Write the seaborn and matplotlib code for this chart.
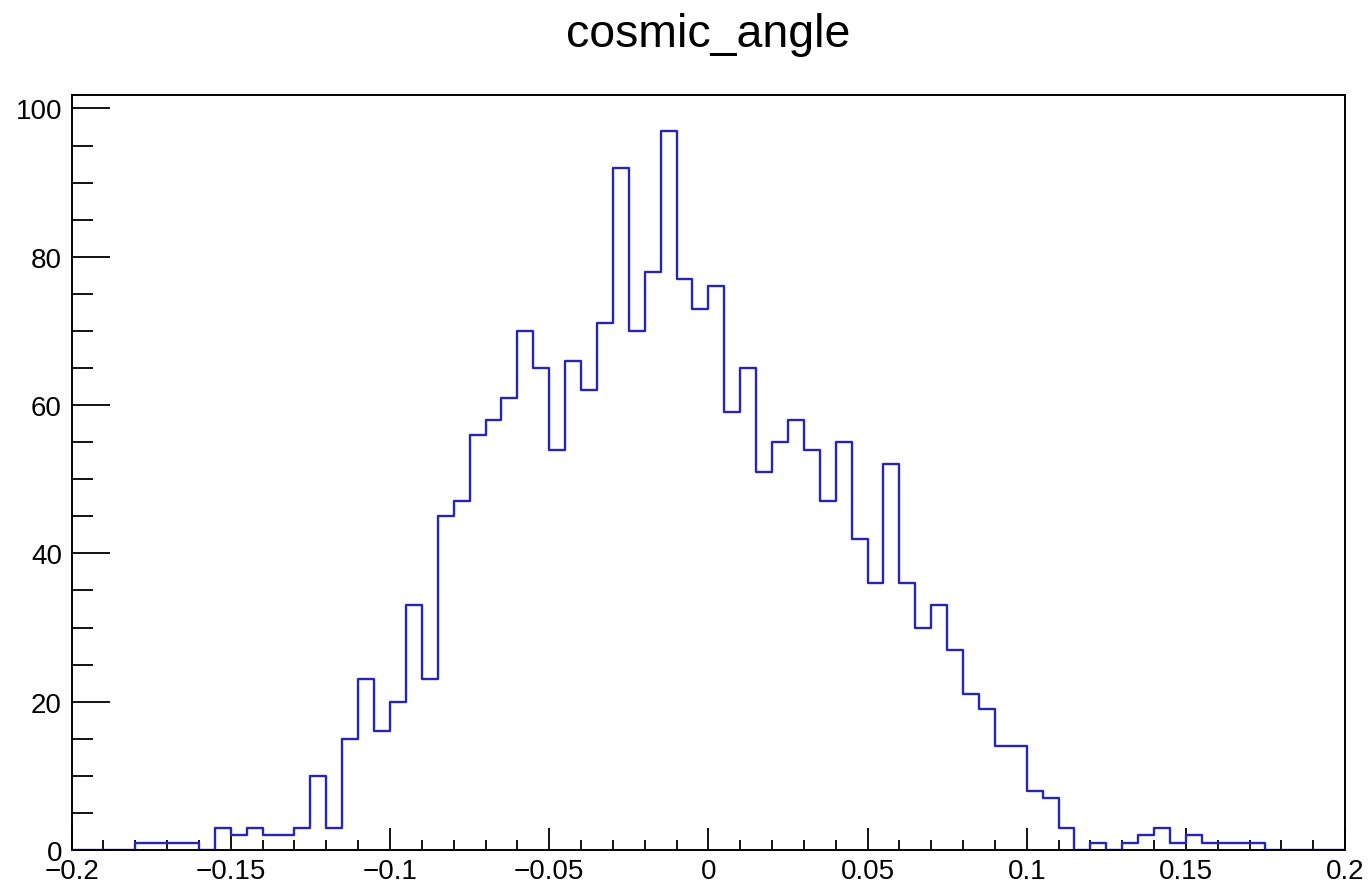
import numpy as np
import pandas as pd
import matplotlib
matplotlib.use("Agg")
import matplotlib.pyplot as plt
from matplotlib.ticker import MultipleLocator, FuncFormatter
import seaborn as sns

# Histogram data (counts per 0.005 bin, from -0.2 to 0.2)
bin_edges = np.round(np.arange(-0.2, 0.2001, 0.005), 3)
counts = [0, 0, 0, 0, 1, 1, 1, 1, 0, 3,
          2, 3, 2, 2, 3, 10, 3, 15, 23, 16,
          20, 33, 23, 45, 47, 56, 58, 61, 70, 65,
          54, 66, 62, 71, 92, 70, 78, 97, 77, 73,
          76, 59, 65, 51, 55, 58, 54, 47, 55, 42,
          36, 52, 36, 30, 33, 27, 21, 19, 14, 14,
          8, 7, 3, 0, 1, 0, 1, 2, 3, 1,
          2, 1, 1, 1, 1, 0, 0, 0, 0, 0]
title = "cosmic_angle"

df = pd.DataFrame({"angle": (bin_edges[:-1] + bin_edges[1:]) / 2, "count": counts})

sns.set_theme(style="white")
plt.rcParams['font.family'] = ['Liberation Sans', 'DejaVu Sans']
plt.rcParams['text.color'] = 'black'
plt.rcParams['xtick.color'] = 'black'
plt.rcParams['ytick.color'] = 'black'

fig = plt.figure(figsize=(13.7, 8.87), dpi=100)
ax = fig.add_axes([0.0523, 0.0406, 0.9818 - 0.0523, 0.8921 - 0.0406])

sns.histplot(data=df, x="angle", weights="count", binwidth=0.005, binrange=(-0.2, 0.2),
             element="step", fill=False, color="#2626b2", linewidth=1.7, ax=ax)

ax.set_xlim(-0.2, 0.2)
ax.set_ylim(0, 101.85)
ax.set_xlabel("")
ax.set_ylabel("")

for s in ax.spines.values():
    s.set_color("black")
    s.set_linewidth(1.4)

ax.xaxis.set_major_locator(MultipleLocator(0.05))
ax.xaxis.set_minor_locator(MultipleLocator(0.01))
ax.yaxis.set_major_locator(MultipleLocator(20))
ax.yaxis.set_minor_locator(MultipleLocator(5))
ax.xaxis.set_major_formatter(FuncFormatter(lambda v, p: ("%g" % round(v, 3)).replace("-", "\u2212")))

ax.tick_params(axis="both", which="both", direction="in", color="black", labelcolor="black",
               top=False, right=False, bottom=True, left=True, width=1.3)
ax.tick_params(axis="x", which="major", length=15.5, pad=6, labelsize=20)
ax.tick_params(axis="x", which="minor", length=7.2)
ax.tick_params(axis="y", which="major", length=27, pad=7, labelsize=20)
ax.tick_params(axis="y", which="minor", length=15)

# title centred over the plot frame, like ROOT
fig.text(0.517, 0.947, title, ha="center", va="baseline", fontsize=33.5, color="black")

fig.savefig("out.png", dpi=100)
